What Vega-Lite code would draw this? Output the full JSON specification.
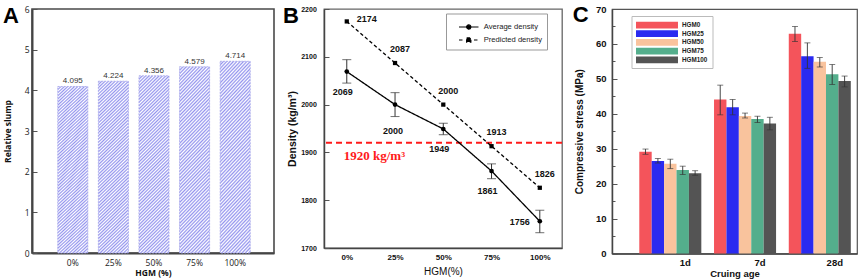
{
  "$schema": "https://vega.github.io/schema/vega-lite/v6.json",
  "padding": {"left": 2, "top": 3, "right": 0, "bottom": 0},
  "bounds": "flush",
  "spacing": 50,
  "resolve": {"scale": {"color": "independent", "strokeDash": "independent"}, "legend": {"color": "independent", "strokeDash": "independent"}},
  "config": {
    "font": "Liberation Sans",
    "axis": {"grid": false, "labelColor": "#111", "titleColor": "#111", "tickColor": "#555", "tickWidth": 1, "labelOverlap": false},
    "title": {"orient": "top", "anchor": "start", "frame": "group", "baseline": "top", "offset": -23, "fontSize": 22, "font": "Liberation Sans", "fontWeight": "bold", "color": "#000"}
  },
  "datasets": {
    "slump": [
      {"hgm": "0%", "slump": 4.095},
      {"hgm": "25%", "slump": 4.224},
      {"hgm": "50%", "slump": 4.356},
      {"hgm": "75%", "slump": 4.579},
      {"hgm": "100%", "slump": 4.714}
    ],
    "density": [
      {"hgm": 0, "series": "Average density", "density": 2069, "lo": 2045, "hi": 2094},
      {"hgm": 25, "series": "Average density", "density": 2000, "lo": 1975, "hi": 2025},
      {"hgm": 50, "series": "Average density", "density": 1949, "lo": 1937, "hi": 1961},
      {"hgm": 75, "series": "Average density", "density": 1861, "lo": 1845, "hi": 1876},
      {"hgm": 100, "series": "Average density", "density": 1756, "lo": 1732, "hi": 1779},
      {"hgm": 0, "series": "Predicted density", "density": 2174},
      {"hgm": 25, "series": "Predicted density", "density": 2087},
      {"hgm": 50, "series": "Predicted density", "density": 2000},
      {"hgm": 75, "series": "Predicted density", "density": 1913},
      {"hgm": 100, "series": "Predicted density", "density": 1826}
    ],
    "limit": [{"hgm": 0, "density": 1920, "label": "1920 kg/m³"}],
    "strength": [
      {"age": "1d", "group": "HGM0", "mean": 29.1, "lo": 28.4, "hi": 29.9},
      {"age": "1d", "group": "HGM25", "mean": 26.5, "lo": 25.9, "hi": 27.2},
      {"age": "1d", "group": "HGM50", "mean": 25.7, "lo": 24.3, "hi": 27.0},
      {"age": "1d", "group": "HGM75", "mean": 23.9, "lo": 22.6, "hi": 25.0},
      {"age": "1d", "group": "HGM100", "mean": 23.0, "lo": 22.4, "hi": 23.7},
      {"age": "7d", "group": "HGM0", "mean": 44.1, "lo": 39.7, "hi": 48.2},
      {"age": "7d", "group": "HGM25", "mean": 41.9, "lo": 39.7, "hi": 44.1},
      {"age": "7d", "group": "HGM50", "mean": 39.4, "lo": 38.8, "hi": 40.2},
      {"age": "7d", "group": "HGM75", "mean": 38.5, "lo": 37.5, "hi": 39.3},
      {"age": "7d", "group": "HGM100", "mean": 37.2, "lo": 35.4, "hi": 39.0},
      {"age": "28d", "group": "HGM0", "mean": 62.9, "lo": 60.7, "hi": 65.0},
      {"age": "28d", "group": "HGM25", "mean": 56.5, "lo": 53.0, "hi": 60.3},
      {"age": "28d", "group": "HGM50", "mean": 54.9, "lo": 53.4, "hi": 56.1},
      {"age": "28d", "group": "HGM75", "mean": 51.3, "lo": 48.4, "hi": 54.1},
      {"age": "28d", "group": "HGM100", "mean": 49.4, "lo": 47.7, "hi": 50.8}
    ]
  },
  "hconcat": [
    {
      "width": 242,
      "height": 244,
      "view": {"stroke": "#4a4a4a", "strokeWidth": 1.6},
      "title": {"text": "A", "dx": -29},
      "data": {"name": "slump"},
      "encoding": {
        "x": {
          "field": "hgm", "type": "ordinal", "sort": null,
          "scale": {"paddingInner": 0.26, "paddingOuter": 0.61, "align": 0.52},
          "axis": {"title": "HGM (%)", "labelAngle": 0, "ticks": false, "domainColor": "#444", "domainWidth": 2,
                   "labelFont": "Open Sans", "labelFontSize": 8.5, "labelColor": "#222", "labelPadding": 5,
                   "titleFont": "Open Sans", "titleFontSize": 8.5, "titleFontWeight": "bold", "titlePadding": 2}
        },
        "y": {
          "field": "slump", "type": "quantitative",
          "scale": {"domain": [0, 6], "nice": false},
          "axis": {"title": "Relative slump", "values": [0, 0.5, 1, 1.5, 2, 2.5, 3, 3.5, 4, 4.5, 5, 5.5, 6], "format": "d",
                   "labelExpr": "datum.value % 1 ? '' : datum.label", "labelOverlap": false, "labelFlush": false,
                   "tickSize": {"condition": {"test": "datum.value % 1", "value": -3}, "value": -5},
                   "domainColor": "#444", "domainWidth": 2,
                   "labelFont": "Open Sans", "labelFontSize": 8.5, "labelColor": "#222", "labelPadding": 8,
                   "titleFont": "Open Sans", "titleFontSize": 8.5, "titleFontWeight": "bold", "titlePadding": 12}
        }
      },
      "layer": [
        {"mark": {"type": "bar", "stroke": "#a4a4ea", "strokeWidth": 0.8, "strokeDash": [2, 1],
          "fill": {"gradient": "linear", "x1": 0, "y1": 0, "x2": 0.19, "y2": 1.136, "stops": [
            {"offset": 0, "color": "#9494ee"}, {"offset": 0.008, "color": "#fff"}, {"offset": 0.016, "color": "#9494ee"}, {"offset": 0.024, "color": "#fff"},
            {"offset": 0.032, "color": "#9494ee"}, {"offset": 0.04, "color": "#fff"}, {"offset": 0.048, "color": "#9494ee"}, {"offset": 0.056, "color": "#fff"},
            {"offset": 0.064, "color": "#9494ee"}, {"offset": 0.072, "color": "#fff"}, {"offset": 0.08, "color": "#9494ee"}, {"offset": 0.088, "color": "#fff"},
            {"offset": 0.096, "color": "#9494ee"}, {"offset": 0.104, "color": "#fff"}, {"offset": 0.112, "color": "#9494ee"}, {"offset": 0.12, "color": "#fff"},
            {"offset": 0.128, "color": "#9494ee"}, {"offset": 0.136, "color": "#fff"}, {"offset": 0.144, "color": "#9494ee"}, {"offset": 0.152, "color": "#fff"},
            {"offset": 0.16, "color": "#9494ee"}, {"offset": 0.168, "color": "#fff"}, {"offset": 0.176, "color": "#9494ee"}, {"offset": 0.184, "color": "#fff"},
            {"offset": 0.192, "color": "#9494ee"}, {"offset": 0.2, "color": "#fff"}, {"offset": 0.208, "color": "#9494ee"}, {"offset": 0.216, "color": "#fff"},
            {"offset": 0.224, "color": "#9494ee"}, {"offset": 0.232, "color": "#fff"}, {"offset": 0.24, "color": "#9494ee"}, {"offset": 0.248, "color": "#fff"},
            {"offset": 0.256, "color": "#9494ee"}, {"offset": 0.264, "color": "#fff"}, {"offset": 0.272, "color": "#9494ee"}, {"offset": 0.28, "color": "#fff"},
            {"offset": 0.288, "color": "#9494ee"}, {"offset": 0.296, "color": "#fff"}, {"offset": 0.304, "color": "#9494ee"}, {"offset": 0.312, "color": "#fff"},
            {"offset": 0.32, "color": "#9494ee"}, {"offset": 0.328, "color": "#fff"}, {"offset": 0.336, "color": "#9494ee"}, {"offset": 0.344, "color": "#fff"},
            {"offset": 0.352, "color": "#9494ee"}, {"offset": 0.36, "color": "#fff"}, {"offset": 0.368, "color": "#9494ee"}, {"offset": 0.376, "color": "#fff"},
            {"offset": 0.384, "color": "#9494ee"}, {"offset": 0.392, "color": "#fff"}, {"offset": 0.4, "color": "#9494ee"}, {"offset": 0.408, "color": "#fff"},
            {"offset": 0.416, "color": "#9494ee"}, {"offset": 0.424, "color": "#fff"}, {"offset": 0.432, "color": "#9494ee"}, {"offset": 0.44, "color": "#fff"},
            {"offset": 0.448, "color": "#9494ee"}, {"offset": 0.456, "color": "#fff"}, {"offset": 0.464, "color": "#9494ee"}, {"offset": 0.472, "color": "#fff"},
            {"offset": 0.48, "color": "#9494ee"}, {"offset": 0.488, "color": "#fff"}, {"offset": 0.496, "color": "#9494ee"}, {"offset": 0.504, "color": "#fff"},
            {"offset": 0.512, "color": "#9494ee"}, {"offset": 0.52, "color": "#fff"}, {"offset": 0.528, "color": "#9494ee"}, {"offset": 0.536, "color": "#fff"},
            {"offset": 0.544, "color": "#9494ee"}, {"offset": 0.552, "color": "#fff"}, {"offset": 0.56, "color": "#9494ee"}, {"offset": 0.568, "color": "#fff"},
            {"offset": 0.576, "color": "#9494ee"}, {"offset": 0.584, "color": "#fff"}, {"offset": 0.592, "color": "#9494ee"}, {"offset": 0.6, "color": "#fff"},
            {"offset": 0.608, "color": "#9494ee"}, {"offset": 0.616, "color": "#fff"}, {"offset": 0.624, "color": "#9494ee"}, {"offset": 0.632, "color": "#fff"},
            {"offset": 0.64, "color": "#9494ee"}, {"offset": 0.648, "color": "#fff"}, {"offset": 0.656, "color": "#9494ee"}, {"offset": 0.664, "color": "#fff"},
            {"offset": 0.672, "color": "#9494ee"}, {"offset": 0.68, "color": "#fff"}, {"offset": 0.688, "color": "#9494ee"}, {"offset": 0.696, "color": "#fff"},
            {"offset": 0.704, "color": "#9494ee"}, {"offset": 0.712, "color": "#fff"}, {"offset": 0.72, "color": "#9494ee"}, {"offset": 0.728, "color": "#fff"},
            {"offset": 0.736, "color": "#9494ee"}, {"offset": 0.744, "color": "#fff"}, {"offset": 0.752, "color": "#9494ee"}, {"offset": 0.76, "color": "#fff"},
            {"offset": 0.768, "color": "#9494ee"}, {"offset": 0.776, "color": "#fff"}, {"offset": 0.784, "color": "#9494ee"}, {"offset": 0.792, "color": "#fff"},
            {"offset": 0.8, "color": "#9494ee"}, {"offset": 0.808, "color": "#fff"}, {"offset": 0.816, "color": "#9494ee"}, {"offset": 0.824, "color": "#fff"},
            {"offset": 0.832, "color": "#9494ee"}, {"offset": 0.84, "color": "#fff"}, {"offset": 0.848, "color": "#9494ee"}, {"offset": 0.856, "color": "#fff"},
            {"offset": 0.864, "color": "#9494ee"}, {"offset": 0.872, "color": "#fff"}, {"offset": 0.88, "color": "#9494ee"}, {"offset": 0.888, "color": "#fff"},
            {"offset": 0.896, "color": "#9494ee"}, {"offset": 0.904, "color": "#fff"}, {"offset": 0.912, "color": "#9494ee"}, {"offset": 0.92, "color": "#fff"},
            {"offset": 0.928, "color": "#9494ee"}, {"offset": 0.936, "color": "#fff"}, {"offset": 0.944, "color": "#9494ee"}, {"offset": 0.952, "color": "#fff"},
            {"offset": 0.96, "color": "#9494ee"}, {"offset": 0.968, "color": "#fff"}, {"offset": 0.976, "color": "#9494ee"}, {"offset": 0.984, "color": "#fff"},
            {"offset": 0.992, "color": "#9494ee"}, {"offset": 1, "color": "#fff"}
          ]}}},
        {"mark": {"type": "text", "baseline": "bottom", "dy": -1, "font": "Liberation Sans", "fontSize": 8, "color": "#333"},
         "encoding": {"text": {"field": "slump", "type": "quantitative", "format": ".3f"}}}
      ]
    },
    {
      "width": 238,
      "height": 239,
      "view": {"stroke": "#666", "strokeWidth": 1.3},
      "title": {"text": "B", "dx": -41},
      "layer": [
        {
          "data": {"name": "limit"},
          "mark": {"type": "rule", "color": "#ff1a1a", "strokeWidth": 2, "strokeDash": [6, 4]},
          "encoding": {
            "y": {"field": "density", "type": "quantitative", "title": "Density (kg/m³)",
                  "scale": {"domain": [1700, 2200], "nice": false, "zero": false},
                  "axis": {"values": [1700, 1750, 1800, 1850, 1900, 1950, 2000, 2050, 2100, 2150, 2200], "format": "d",
                           "labelExpr": "datum.value % 100 ? '' : datum.label", "labelOverlap": false, "labelFlush": false,
                           "tickSize": {"condition": {"test": "datum.value % 100", "value": -3}, "value": -5},
                           "domainColor": "#444", "domainWidth": 1.5,
                           "labelFontSize": 7, "labelFontWeight": "bold", "labelPadding": 12.7,
                           "titleFontSize": 10.5, "titleFontWeight": "bold", "titlePadding": 3}}
          }
        },
        {
          "data": {"name": "limit"},
          "mark": {"type": "text", "align": "left", "baseline": "middle", "dx": -3, "dy": 13, "font": "Liberation Serif", "fontWeight": "bold", "fontSize": 13, "color": "#ff1a1a"},
          "encoding": {
            "x": {"field": "hgm", "type": "quantitative", "title": "HGM(%)",
                  "scale": {"domain": [-11.8, 111.5], "nice": false, "zero": false},
                  "axis": {"values": [0, 25, 50, 75, 100], "labelExpr": "datum.value + '%'", "ticks": false,
                           "domainColor": "#444", "domainWidth": 1.5,
                           "labelFontSize": 8, "labelFontWeight": "bold", "labelPadding": 5.5,
                           "titleFontSize": 10, "titleFontWeight": "normal", "titlePadding": 5}},
            "y": {"field": "density", "type": "quantitative", "title": "Density (kg/m³)"},
            "text": {"field": "label"}
          }
        },
        {
          "data": {"name": "density"},
          "transform": [{"filter": "datum.series === 'Average density'"}],
          "mark": {"type": "rule", "color": "#333", "strokeWidth": 1},
          "encoding": {
            "x": {"field": "hgm", "type": "quantitative", "title": "HGM(%)"},
            "y": {"field": "lo", "type": "quantitative", "title": "Density (kg/m³)"},
            "y2": {"field": "hi"}
          }
        },
        {
          "data": {"name": "density"},
          "transform": [{"filter": "datum.series === 'Average density'"}],
          "mark": {"type": "tick", "orient": "horizontal", "color": "#333", "size": 9, "thickness": 1},
          "encoding": {
            "x": {"field": "hgm", "type": "quantitative", "title": "HGM(%)"},
            "y": {"field": "lo", "type": "quantitative", "title": "Density (kg/m³)"}
          }
        },
        {
          "data": {"name": "density"},
          "transform": [{"filter": "datum.series === 'Average density'"}],
          "mark": {"type": "tick", "orient": "horizontal", "color": "#333", "size": 9, "thickness": 1},
          "encoding": {
            "x": {"field": "hgm", "type": "quantitative", "title": "HGM(%)"},
            "y": {"field": "hi", "type": "quantitative", "title": "Density (kg/m³)"}
          }
        },
        {
          "data": {"name": "density"},
          "mark": {"type": "line", "color": "#000", "strokeWidth": 1.3},
          "encoding": {
            "x": {"field": "hgm", "type": "quantitative", "title": "HGM(%)"},
            "y": {"field": "density", "type": "quantitative", "title": "Density (kg/m³)"},
            "strokeDash": {
              "field": "series", "type": "nominal",
              "scale": {"domain": ["Average density", "Predicted density"], "range": [[1, 0], [3.5, 2.5]]},
              "legend": {
                "title": null, "orient": "none", "legendX": 122, "legendY": 4.5,
                "fillColor": "white", "strokeColor": "#999", "padding": 5,
                "symbolSize": 225, "symbolStrokeColor": "#000", "symbolFillColor": "#000", "symbolStrokeWidth": 1.2,
                "labelOffset": 15.7, "labelFontSize": 7.6, "labelColor": "#222", "rowPadding": 0,
                "encode": {"symbols": {"update": {
                  "shape": {"signal": "datum.value === 'Average density' ? 'M-0.067,0L2.533,0M0.953,0A0.28,0.28,0,1,1,1.513,0A0.28,0.28,0,1,1,0.953,0Z' : 'M-0.067,0L0.55,0M1.93,0L2.533,0M0.953,-0.28L1.513,-0.28L1.513,0.28L0.953,0.28Z'"},
                  "strokeDash": {"value": [1, 0]},
                  "fill": {"value": "#000"},
                  "stroke": {"value": "#000"}
                }}}
              }
            }
          }
        },
        {
          "data": {"name": "density"},
          "transform": [{"filter": "datum.series === 'Average density'"}],
          "mark": {"type": "point", "shape": "circle", "filled": true, "color": "#000", "size": 22, "opacity": 1},
          "encoding": {
            "x": {"field": "hgm", "type": "quantitative", "title": "HGM(%)"},
            "y": {"field": "density", "type": "quantitative", "title": "Density (kg/m³)"}
          }
        },
        {
          "data": {"name": "density"},
          "transform": [{"filter": "datum.series === 'Predicted density'"}],
          "mark": {"type": "point", "shape": "square", "filled": true, "color": "#000", "size": 18, "opacity": 1},
          "encoding": {
            "x": {"field": "hgm", "type": "quantitative", "title": "HGM(%)"},
            "y": {"field": "density", "type": "quantitative", "title": "Density (kg/m³)"}
          }
        },
        {
          "data": {"name": "density"},
          "transform": [{"filter": "datum.series === 'Predicted density' && datum.hgm === 0"}],
          "mark": {"type": "text", "fontWeight": "bold", "fontSize": 9, "color": "#111", "dx": 20, "dy": -2, "baseline": "middle"},
          "encoding": {
            "x": {"field": "hgm", "type": "quantitative", "title": "HGM(%)"},
            "y": {"field": "density", "type": "quantitative", "title": "Density (kg/m³)"},
            "text": {"field": "density", "type": "quantitative", "format": "d"}
          }
        },
        {
          "data": {"name": "density"},
          "transform": [{"filter": "datum.series === 'Predicted density' && datum.hgm > 0"}],
          "mark": {"type": "text", "fontWeight": "bold", "fontSize": 9, "color": "#111", "dx": 5, "dy": -14, "baseline": "middle"},
          "encoding": {
            "x": {"field": "hgm", "type": "quantitative", "title": "HGM(%)"},
            "y": {"field": "density", "type": "quantitative", "title": "Density (kg/m³)"},
            "text": {"field": "density", "type": "quantitative", "format": "d"}
          }
        },
        {
          "data": {"name": "density"},
          "transform": [{"filter": "datum.series === 'Average density' && (datum.hgm === 0 || datum.hgm === 50 || datum.hgm === 75)"}],
          "mark": {"type": "text", "fontWeight": "bold", "fontSize": 9, "color": "#111", "dx": -4, "dy": 20, "baseline": "middle"},
          "encoding": {
            "x": {"field": "hgm", "type": "quantitative", "title": "HGM(%)"},
            "y": {"field": "density", "type": "quantitative", "title": "Density (kg/m³)"},
            "text": {"field": "density", "type": "quantitative", "format": "d"}
          }
        },
        {
          "data": {"name": "density"},
          "transform": [{"filter": "datum.series === 'Average density' && datum.hgm === 25"}],
          "mark": {"type": "text", "fontWeight": "bold", "fontSize": 9, "color": "#111", "dx": -2, "dy": 26, "baseline": "middle"},
          "encoding": {
            "x": {"field": "hgm", "type": "quantitative", "title": "HGM(%)"},
            "y": {"field": "density", "type": "quantitative", "title": "Density (kg/m³)"},
            "text": {"field": "density", "type": "quantitative", "format": "d"}
          }
        },
        {
          "data": {"name": "density"},
          "transform": [{"filter": "datum.series === 'Average density' && datum.hgm === 100"}],
          "mark": {"type": "text", "fontWeight": "bold", "fontSize": 9, "color": "#111", "dx": -20, "dy": 1, "baseline": "middle"},
          "encoding": {
            "x": {"field": "hgm", "type": "quantitative", "title": "HGM(%)"},
            "y": {"field": "density", "type": "quantitative", "title": "Density (kg/m³)"},
            "text": {"field": "density", "type": "quantitative", "format": "d"}
          }
        }
      ]
    },
    {
      "width": 245,
      "height": 244.5,
      "view": {"stroke": "#555", "strokeWidth": 1.2},
      "title": {"text": "C", "dx": -39.3},
      "data": {"name": "strength"},
      "encoding": {
        "x": {
          "field": "age", "type": "nominal", "sort": ["1d", "7d", "28d"],
          "scale": {"paddingInner": 0.17, "paddingOuter": 0.224, "align": 0.815},
          "axis": {"title": "Cruing age", "labelAngle": 0, "ticks": false, "labelOffset": 15,
                   "domainColor": "#444", "domainWidth": 1.5,
                   "labelFontSize": 9.5, "labelFontWeight": "bold", "labelPadding": 4,
                   "titleFontSize": 9.5, "titleFontWeight": "bold", "titlePadding": 1}
        },
        "xOffset": {"field": "group", "type": "nominal", "sort": ["HGM0", "HGM25", "HGM50", "HGM75", "HGM100"]}
      },
      "layer": [
        {
          "mark": {"type": "bar"},
          "encoding": {
            "y": {"field": "mean", "type": "quantitative", "title": "Compressive stress (MPa)",
                  "scale": {"domain": [0, 70], "nice": false},
                  "axis": {"values": [0, 5, 10, 15, 20, 25, 30, 35, 40, 45, 50, 55, 60, 65, 70], "format": "d",
                           "labelExpr": "datum.value % 10 ? '' : datum.label", "labelOverlap": false, "labelFlush": false,
                           "tickSize": {"condition": {"test": "datum.value % 10", "value": -3}, "value": -5},
                           "domainColor": "#444", "domainWidth": 1.5,
                           "labelFontSize": 9.5, "labelFontWeight": "bold", "labelPadding": 11,
                           "titleFontSize": 10, "titleFontWeight": "bold", "titlePadding": 11.4}},
            "color": {
              "field": "group", "type": "nominal",
              "scale": {"domain": ["HGM0", "HGM25", "HGM50", "HGM75", "HGM100"],
                        "range": ["#f4545b", "#2a2af0", "#f9c39d", "#54ae8c", "#545454"]},
              "legend": {
                "title": null, "orient": "none", "legendX": 19.5, "legendY": 7,
                "fillColor": "white", "strokeColor": "#bbb", "padding": 4.5,
                "symbolType": "M-1,-0.75H8.33V0.75H-1Z", "symbolSize": 81, "symbolStrokeWidth": 0, "symbolOpacity": 1,
                "labelOffset": 37, "labelFontSize": 6.3, "labelFontWeight": "bold", "labelColor": "#222", "rowPadding": 0.7
              }
            }
          }
        },
        {
          "mark": {"type": "rule", "color": "#333", "strokeWidth": 0.9},
          "encoding": {
            "y": {"field": "lo", "type": "quantitative", "title": "Compressive stress (MPa)",
                  "axis": {"values": [0, 5, 10, 15, 20, 25, 30, 35, 40, 45, 50, 55, 60, 65, 70], "format": "d",
                           "labelExpr": "datum.value % 10 ? '' : datum.label", "labelOverlap": false, "labelFlush": false,
                           "tickSize": {"condition": {"test": "datum.value % 10", "value": -3}, "value": -5},
                           "domainColor": "#444", "domainWidth": 1.5,
                           "labelFontSize": 9.5, "labelFontWeight": "bold", "labelPadding": 11,
                           "titleFontSize": 10, "titleFontWeight": "bold", "titlePadding": 11.4}},
            "y2": {"field": "hi"}
          }
        },
        {
          "mark": {"type": "tick", "orient": "horizontal", "color": "#333", "size": 6, "thickness": 0.9},
          "encoding": {"y": {"field": "lo", "type": "quantitative", "title": "Compressive stress (MPa)",
                  "axis": {"values": [0, 5, 10, 15, 20, 25, 30, 35, 40, 45, 50, 55, 60, 65, 70], "format": "d",
                           "labelExpr": "datum.value % 10 ? '' : datum.label", "labelOverlap": false, "labelFlush": false,
                           "tickSize": {"condition": {"test": "datum.value % 10", "value": -3}, "value": -5},
                           "domainColor": "#444", "domainWidth": 1.5,
                           "labelFontSize": 9.5, "labelFontWeight": "bold", "labelPadding": 11,
                           "titleFontSize": 10, "titleFontWeight": "bold", "titlePadding": 11.4}}}
        },
        {
          "mark": {"type": "tick", "orient": "horizontal", "color": "#333", "size": 6, "thickness": 0.9},
          "encoding": {"y": {"field": "hi", "type": "quantitative", "title": "Compressive stress (MPa)",
                  "axis": {"values": [0, 5, 10, 15, 20, 25, 30, 35, 40, 45, 50, 55, 60, 65, 70], "format": "d",
                           "labelExpr": "datum.value % 10 ? '' : datum.label", "labelOverlap": false, "labelFlush": false,
                           "tickSize": {"condition": {"test": "datum.value % 10", "value": -3}, "value": -5},
                           "domainColor": "#444", "domainWidth": 1.5,
                           "labelFontSize": 9.5, "labelFontWeight": "bold", "labelPadding": 11,
                           "titleFontSize": 10, "titleFontWeight": "bold", "titlePadding": 11.4}}}
        }
      ]
    }
  ]
}
